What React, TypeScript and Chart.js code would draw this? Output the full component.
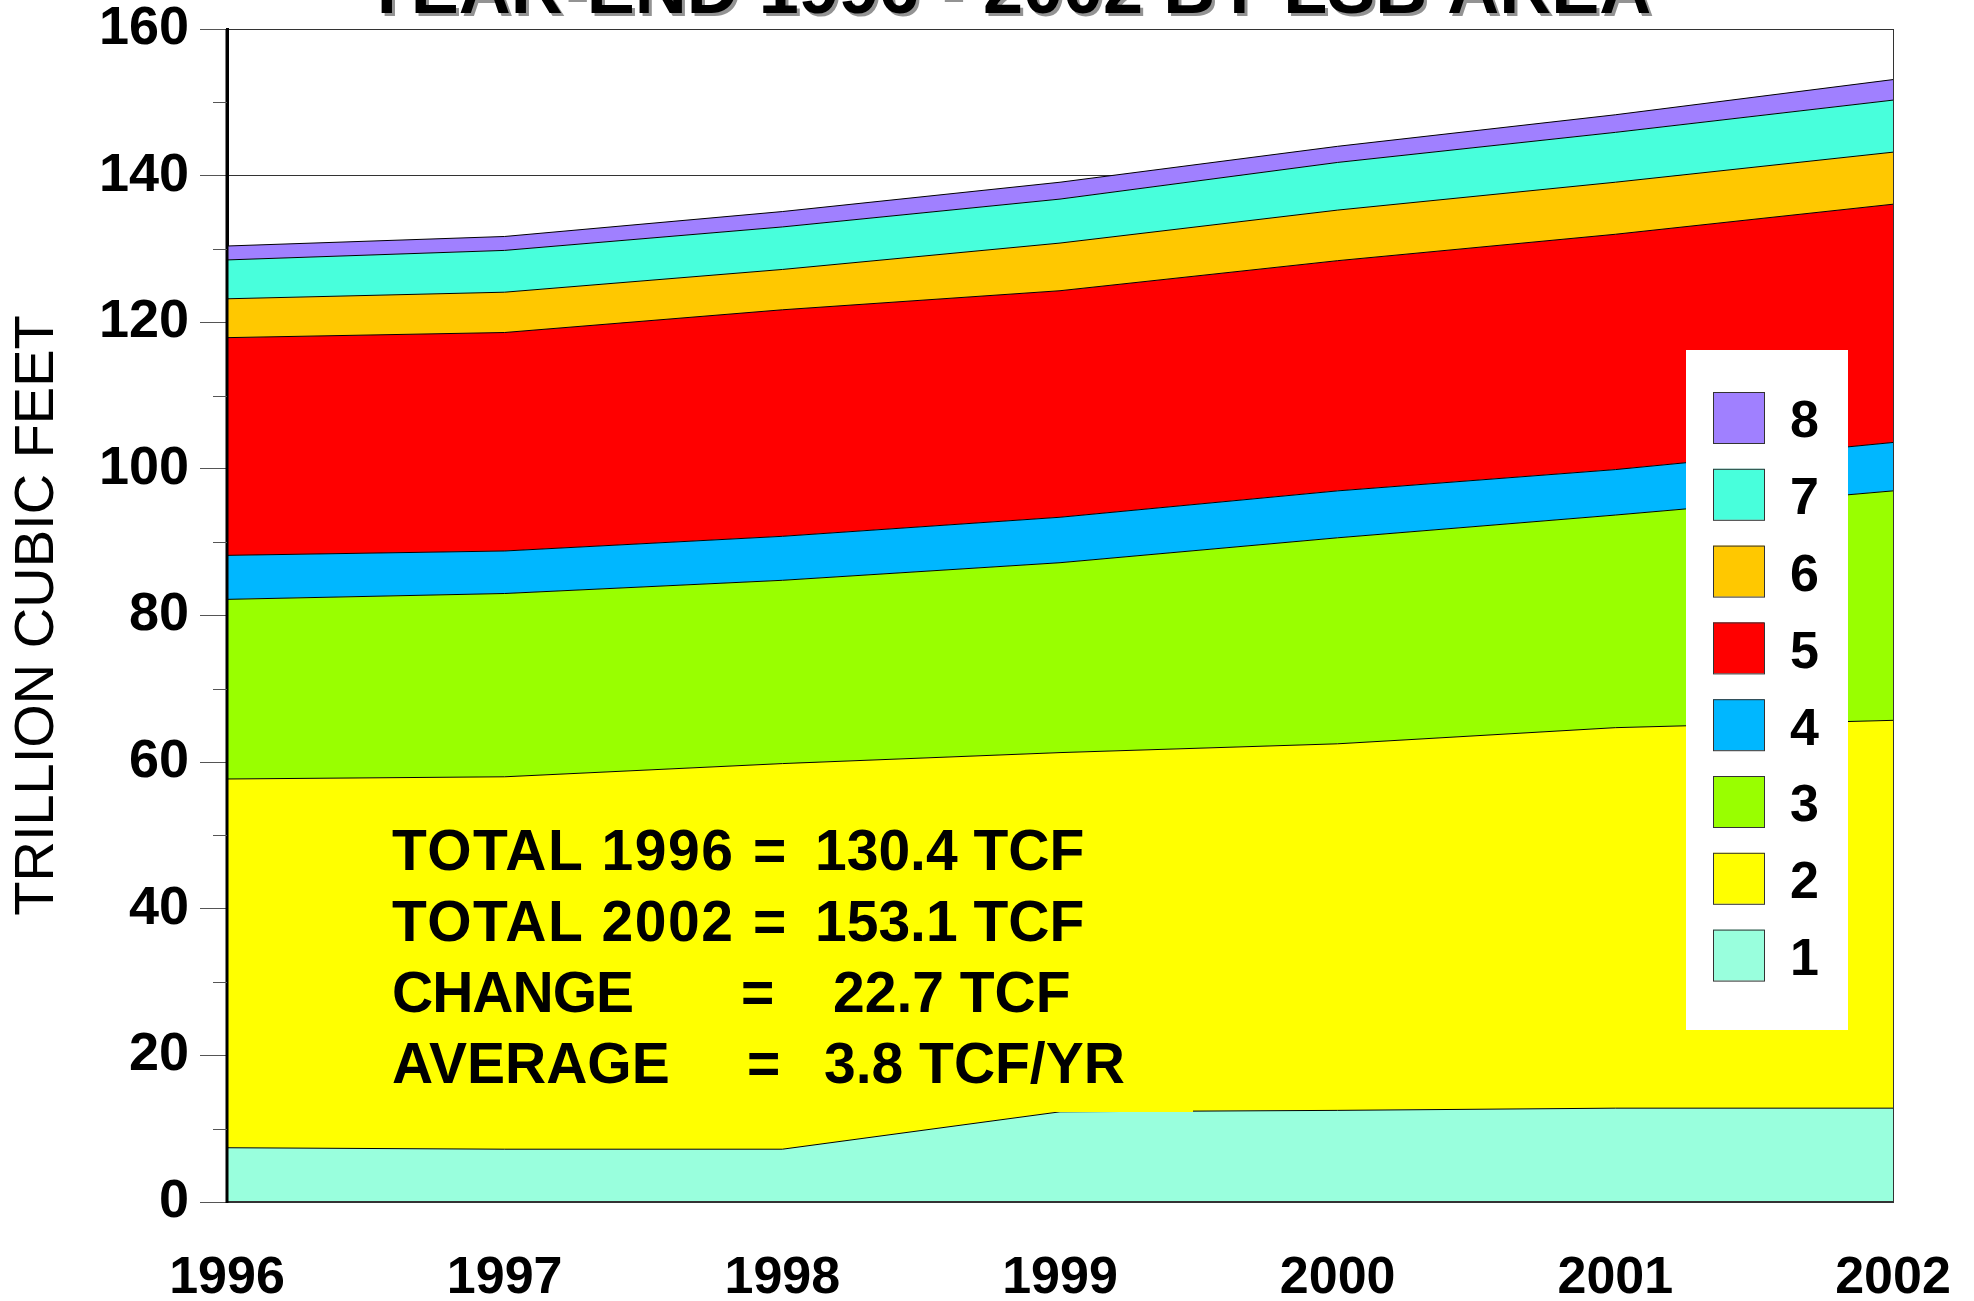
import React, { useEffect, useRef } from 'react';
import { Chart, registerables } from 'chart.js';

Chart.register(...registerables);

// ---- data ----
const years = ['1996', '1997', '1998', '1999', '2000', '2001', '2002'];
const area1 = [7.4, 7.2, 7.2, 12.3, 12.5, 12.8, 12.8];
const area2 = [50.3, 50.8, 52.6, 49.0, 50.0, 51.9, 52.9];
const area3 = [24.5, 25.0, 25.0, 25.9, 28.1, 29.0, 31.3];
const area4 = [6.0, 5.8, 6.0, 6.2, 6.4, 6.2, 6.6];
const area5 = [29.7, 29.8, 30.9, 30.9, 31.4, 32.1, 32.5];
const area6 = [5.3, 5.5, 5.5, 6.5, 6.9, 7.1, 7.1];
const area7 = [5.3, 5.7, 5.8, 6.0, 6.5, 6.8, 7.1];
const area8 = [1.9, 1.9, 2.1, 2.3, 2.2, 2.4, 2.8];
const seriesLabels = ['1', '2', '3', '4', '5', '6', '7', '8'];
const seriesColors = ['#99ffdd', '#ffff00', '#99ff00', '#00b7ff', '#ff0000', '#ffc800', '#48ffdc', '#a080ff'];
const minorTicks = [10, 30, 50, 70, 90, 110, 130, 150];
const summaryLabels = ['TOTAL 1996', 'TOTAL 2002', 'CHANGE', 'AVERAGE'];
const summaryValues = ['130.4 TCF', '153.1 TCF', '22.7 TCF', '3.8 TCF/YR'];
const titleText = 'YEAR-END 1996 - 2002 BY LSB AREA';
const yTitle = 'TRILLION CUBIC FEET';

const FONT = '"Liberation Sans", Arial, sans-serif';

export default function App() {
  const ref = useRef<HTMLCanvasElement>(null);

  useEffect(() => {
    const canvas = ref.current;
    if (!canvas) return;
    const series = [area1, area2, area3, area4, area5, area6, area7, area8];
    const datasets = series.map((d, i) => ({
      label: seriesLabels[i],
      data: d,
      backgroundColor: seriesColors[i],
      borderColor: '#000',
      borderWidth: 1,
      pointRadius: 0,
      pointHoverRadius: 0,
      tension: 0,
      fill: i === 0 ? 'origin' : '-1',
    }));

    const overlay = {
      id: 'overlay',
      afterDatasetsDraw(chart: any) {
        const ctx = chart.ctx;
        const a = chart.chartArea;
        ctx.save();
        // frame lines on top of the filled areas
        ctx.strokeStyle = '#333';
        ctx.lineWidth = 1;
        ctx.beginPath();
        ctx.moveTo(a.right + 0.5, a.top);
        ctx.lineTo(a.right + 0.5, a.bottom);
        ctx.stroke();
        ctx.lineWidth = 2;
        ctx.beginPath();
        ctx.moveTo(a.left, a.bottom);
        ctx.lineTo(a.right + 1, a.bottom);
        ctx.stroke();
        ctx.strokeStyle = '#000';
        ctx.lineWidth = 3;
        ctx.beginPath();
        ctx.moveTo(a.left, a.top);
        ctx.lineTo(a.left, a.bottom + 1);
        ctx.stroke();
        // summary text block
        ctx.fillStyle = '#ffff00';
        ctx.fillRect(380, 800, 813, 312);
        ctx.fillStyle = '#000';
        ctx.font = `bold 57px ${FONT}`;
        ctx.textBaseline = 'alphabetic';
        ctx.textAlign = 'left';
        const base = [870, 941, 1012, 1083];
        const eqX = [753, 753, 741, 747];
        const valX = [815, 815, 833, 824];
        const spacing = ['1.5px', '1.5px', '-1px', '0px'];
        summaryLabels.forEach((lab, i) => {
          ctx.letterSpacing = spacing[i];
          ctx.fillText(lab, 392, base[i]);
          ctx.letterSpacing = '0px';
          ctx.fillText('=', eqX[i], base[i]);
          ctx.fillText(summaryValues[i], valX[i], base[i]);
        });
        ctx.restore();
      },
      afterDraw(chart: any) {
        const ctx = chart.ctx;
        const ys = chart.scales.y;
        const area = chart.chartArea;
        ctx.save();
        // minor ticks
        ctx.strokeStyle = '#555';
        ctx.lineWidth = 1;
        minorTicks.forEach((v) => {
          const y = Math.round(ys.getPixelForValue(v)) + 0.5;
          ctx.beginPath();
          ctx.moveTo(area.left - 14, y);
          ctx.lineTo(area.left, y);
          ctx.stroke();
        });
        // legend
        ctx.fillStyle = '#fff';
        ctx.fillRect(1686, 350, 162, 680);
        ctx.font = `bold 52px ${FONT}`;
        ctx.textBaseline = 'middle';
        ctx.textAlign = 'left';
        const n = chart.data.datasets.length;
        for (let k = 0; k < n; k++) {
          const ds = chart.data.datasets[n - 1 - k];
          const top = 392 + k * 76.8;
          ctx.fillStyle = ds.backgroundColor;
          ctx.fillRect(1713, top, 51, 51);
          ctx.strokeStyle = '#333';
          ctx.lineWidth = 1;
          ctx.strokeRect(1713.5, top + 0.5, 51, 51);
          ctx.fillStyle = '#000';
          ctx.fillText(ds.label, 1790, top + 31);
        }
        // title
        ctx.font = `bold 72px ${FONT}`;
        ctx.textAlign = 'center';
        ctx.textBaseline = 'alphabetic';
        ctx.shadowColor = 'rgba(120,120,120,0.8)';
        ctx.shadowOffsetX = 3;
        ctx.shadowOffsetY = 3;
        ctx.shadowBlur = 0;
        ctx.fillStyle = '#000';
        ctx.fillText(titleText, 1007, 13);
        ctx.restore();
      },
    };

    const chart = new Chart(canvas, {
      type: 'line',
      data: { labels: years, datasets },
      options: {
        animation: false,
        responsive: false,
        maintainAspectRatio: false,
        layout: { padding: { left: 0, right: 81, top: 29, bottom: 0 }, autoPadding: false },
        plugins: {
          legend: { display: false },
          tooltip: { enabled: false },
        },
        scales: {
          x: {
            type: 'category',
            offset: false,
            ticks: {
              font: { family: FONT, size: 52, weight: 'bold' },
              color: '#000',
              padding: 45,
              maxRotation: 0,
              autoSkip: false,
            },
            grid: {
              drawTicks: false,
              lineWidth: 1,
              color: (c: any) => (c.index === years.length - 1 ? '#333' : 'rgba(0,0,0,0)'),
            },
            border: { color: '#333', width: 2 },
            afterFit: (s: any) => {
              s.height = 99;
              s.paddingLeft = 0;
              s.paddingRight = 0;
              s.paddingTop = 0;
              s.paddingBottom = 0;
            },
          },
          y: {
            stacked: true,
            min: 0,
            max: 160,
            ticks: {
              stepSize: 20,
              font: { family: FONT, size: 54, weight: 'bold', lineHeight: 1 },
              color: '#000',
              padding: 11,
            },
            grid: {
              color: '#333',
              lineWidth: 1,
              tickLength: 27,
              tickColor: '#555',
            },
            border: { color: '#000', width: 3 },
            title: {
              display: true,
              text: yTitle,
              font: { family: FONT, size: 56 },
              color: '#000',
              padding: { top: 4, bottom: 0 },
            },
            afterFit: (s: any) => {
              s.width = 227;
              s.paddingLeft = 0;
              s.paddingRight = 0;
              s.paddingTop = 0;
              s.paddingBottom = 0;
            },
          },
        },
      },
      plugins: [overlay],
    } as any);
    return () => chart.destroy();
  }, []);

  return (
    <div style={{ position: 'absolute', left: 0, top: 0, width: 1974, height: 1301, background: '#fff' }}>
      <canvas ref={ref} width={1974} height={1301} style={{ display: 'block' }} />
    </div>
  );
}
